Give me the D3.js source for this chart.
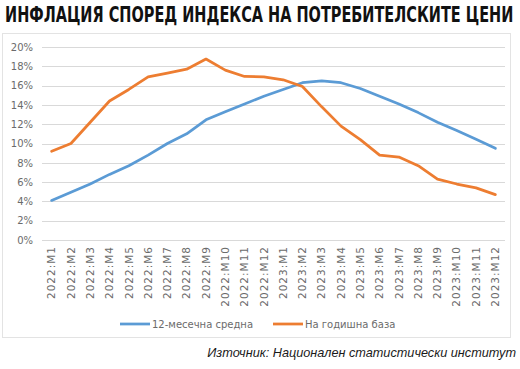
<!DOCTYPE html>
<html>
<head>
<meta charset="utf-8">
<script src="https://cdn.jsdelivr.net/npm/d3@7"></script>
<style>
  body { margin: 0; background: #fff; }
  svg { display: block; }
</style>
</head>
<body>
<div id="chart"></div>
<script>
var months = ["2022:M1", "2022:M2", "2022:M3", "2022:M4", "2022:M5", "2022:M6",
    "2022:M7", "2022:M8", "2022:M9", "2022:M10", "2022:M11", "2022:M12",
    "2023:M1", "2023:M2", "2023:M3", "2023:M4", "2023:M5", "2023:M6",
    "2023:M7", "2023:M8", "2023:M9", "2023:M10", "2023:M11", "2023:M12"];

// 12-месечна средна
var avg12 = [4.1, 4.95, 5.8, 6.8, 7.7, 8.8, 10.0, 11.0, 12.45, 13.3, 14.1, 14.9,
    15.6, 16.3, 16.5, 16.3, 15.7, 14.9, 14.1, 13.2, 12.2, 11.35, 10.45, 9.5];

// На годишна база
var yearly = [9.2, 10.0, 12.2, 14.4, 15.6, 16.9, 17.3, 17.7, 18.75, 17.6, 16.95, 16.9,
    16.6, 15.9, 13.8, 11.8, 10.4, 8.8, 8.6, 7.7, 6.3, 5.8, 5.4, 4.7];

var yTicks = [0, 2, 4, 6, 8, 10, 12, 14, 16, 18, 20];

var seriesNames = ["12-месечна средна", "На годишна база"];
var colors = ["#5b9bd5", "#ed7d31"];

var W = 520, H = 369;
var margin = {top: 47, right: 15, bottom: 129, left: 42},
    width = W - margin.left - margin.right,
    height = H - margin.top - margin.bottom;

var svg = d3.select("#chart").append("svg")
    .attr("width", W)
    .attr("height", H);

// title: squeeze horizontally to look condensed
var title = svg.append("text")
    .attr("font-family", "'Liberation Sans Narrow', 'DejaVu Sans Condensed', 'Arial Narrow', 'Liberation Sans', sans-serif")
    .attr("font-weight", "bold")
    .attr("font-size", 22)
    .attr("fill", "#111")
    .text("ИНФЛАЦИЯ СПОРЕД ИНДЕКСА НА ПОТРЕБИТЕЛСКИТЕ ЦЕНИ");
var titleLen = title.node().getComputedTextLength();
title.attr("transform", "translate(5,22) scale(" + (509 / titleLen) + ",1)");

// chart frame
svg.append("rect")
    .attr("x", 2.5)
    .attr("y", 33.5)
    .attr("width", 508)
    .attr("height", 304)
    .attr("fill", "none")
    .attr("stroke", "#e3e3e3");

var g = svg.append("g")
    .attr("transform", "translate(" + margin.left + "," + margin.top + ")");

var x = d3.scaleBand().domain(months).range([0, width]);
var y = d3.scaleLinear().domain([0, 20]).range([height, 0]);

// gridlines
g.append("g")
    .selectAll("line")
    .data(yTicks)
    .enter().append("line")
    .attr("x1", 0)
    .attr("x2", width)
    .attr("y1", function (d) { return Math.round(y(d)) + 0.5; })
    .attr("y2", function (d) { return Math.round(y(d)) + 0.5; })
    .attr("stroke", "#d9d9d9")
    .attr("stroke-width", 1);

// y axis labels
var yAxis = g.append("g")
    .call(d3.axisLeft(y).tickValues(yTicks).tickSize(0).tickPadding(9)
        .tickFormat(function (d) { return d + "%"; }));
yAxis.select(".domain").remove();
yAxis.selectAll("text")
    .attr("font-family", "'DejaVu Sans', sans-serif")
    .attr("font-size", 10)
    .attr("fill", "#6b6b6b");

// x axis labels
var xAxis = g.append("g")
    .attr("transform", "translate(0," + height + ")")
    .call(d3.axisBottom(x).tickSize(0));
xAxis.select(".domain").remove();
xAxis.selectAll("text")
    .attr("font-family", "'DejaVu Sans', sans-serif")
    .attr("font-size", 10.5)
    .attr("letter-spacing", 1)
    .attr("fill", "#6b6b6b")
    .attr("transform", "rotate(-90)")
    .attr("x", -6)
    .attr("y", 0)
    .attr("dy", "0.35em")
    .style("text-anchor", "end");

// lines
var line = d3.line()
    .x(function (d, i) { return x(months[i]) + x.bandwidth() / 2; })
    .y(function (d) { return y(d); });

[avg12, yearly].forEach(function (s, i) {
    g.append("path")
        .datum(s)
        .attr("fill", "none")
        .attr("stroke", colors[i])
        .attr("stroke-width", 2.75)
        .attr("stroke-linejoin", "round")
        .attr("stroke-linecap", "round")
        .attr("d", line);
});

// legend
var legendX = [120, 273];
var legend = svg.append("g")
    .selectAll("g")
    .data(seriesNames)
    .enter().append("g")
    .attr("transform", function (d, i) { return "translate(" + legendX[i] + ",324)"; });

legend.append("line")
    .attr("x1", 0)
    .attr("x2", 30)
    .attr("stroke", function (d, i) { return colors[i]; })
    .attr("stroke-width", 2.75);

legend.append("text")
    .attr("x", 32)
    .attr("dy", "0.35em")
    .attr("font-family", "'DejaVu Sans', sans-serif")
    .attr("font-size", 10)
    .attr("fill", "#6b6b6b")
    .text(function (d) { return d; });

// source
svg.append("text")
    .attr("x", 516)
    .attr("y", 357)
    .attr("text-anchor", "end")
    .attr("font-family", "'Liberation Sans', Arial, sans-serif")
    .attr("font-style", "italic")
    .attr("font-size", 12.7)
    .attr("fill", "#1a1a1a")
    .text("Източник: Национален статистически институт");
</script>
</body>
</html>
